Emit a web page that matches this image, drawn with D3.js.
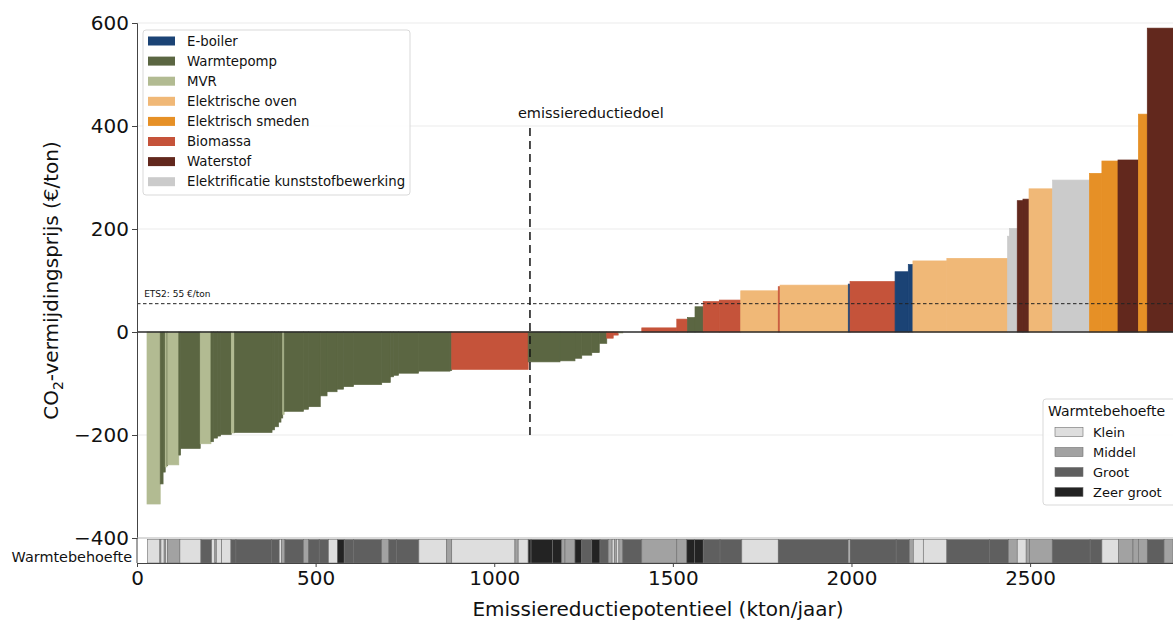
<!DOCTYPE html>
<html>
<head>
<meta charset="utf-8">
<script src="https://cdn.jsdelivr.net/npm/d3@7"></script>
<style>
  body { margin: 0; background: #fff; }
  svg { display: block; font-family: "DejaVu Sans", sans-serif; }
</style>
</head>
<body>
<svg id="chart" width="1173" height="621"></svg>
<script>
// Technologies (legend order) and their colours
const technologies = ["E-boiler", "Warmtepomp", "MVR", "Elektrische oven", "Elektrisch smeden",
                      "Biomassa", "Waterstof", "Elektrificatie kunststofbewerking"];
const techColors = ["#1b4375", "#5b6642", "#b2bb92", "#f0b877", "#e69026", "#c5533a", "#62281d", "#cbcbcb"];

// Measures, sorted by abatement cost
const firstMeasureStart = 28; // kton/jaar
const measureTech = [
  "MVR", "Warmtepomp", "Warmtepomp", "MVR", "Warmtepomp", "MVR", "Warmtepomp", "Warmtepomp", "MVR", "Warmtepomp",
  "Warmtepomp", "Warmtepomp", "Warmtepomp", "MVR", "Warmtepomp", "Warmtepomp", "Warmtepomp", "Warmtepomp", "Warmtepomp", "MVR",
  "Warmtepomp", "Warmtepomp", "Warmtepomp", "Warmtepomp", "Warmtepomp", "Warmtepomp", "Warmtepomp", "Warmtepomp", "Warmtepomp", "Warmtepomp",
  "Warmtepomp", "Warmtepomp", "Warmtepomp", "Warmtepomp", "Biomassa", "Warmtepomp", "Warmtepomp", "Warmtepomp", "Warmtepomp", "Warmtepomp",
  "Warmtepomp", "Biomassa", "Biomassa", "MVR", "Warmtepomp", "Biomassa", "Biomassa", "Warmtepomp", "Warmtepomp", "Biomassa",
  "Biomassa", "Elektrische oven", "Biomassa", "Elektrische oven", "E-boiler", "Biomassa", "E-boiler", "E-boiler", "Elektrische oven", "Elektrische oven",
  "Elektrificatie kunststofbewerking", "Elektrificatie kunststofbewerking", "Waterstof", "Waterstof", "Elektrische oven",
  "Elektrificatie kunststofbewerking", "Elektrisch smeden", "Elektrisch smeden", "Waterstof", "Elektrisch smeden", "Waterstof"
];
// Emission reduction potential per measure (kton/jaar)
const measurePotential = [
  37, 8, 6, 5, 2, 31, 5, 55, 30, 7,
  11, 9, 30, 9, 105, 7, 11, 7, 5, 4,
  54, 14, 33, 19, 28, 18, 28, 79, 24, 9,
  14, 56, 88, 5, 214, 89, 42, 19, 28, 21,
  21, 18, 14, 13, 53, 98, 30, 21, 23, 45,
  60, 105, 5, 191, 5, 126, 37, 13, 95, 170,
  5, 22, 16, 17, 66,
  103, 35, 45, 57, 25, 72
];
// CO2 abatement cost per measure (€/ton)
const measureCost = [
  -334, -295, -272, -262, -259, -258, -239, -226, -217, -213,
  -206, -202, -199, -196, -195, -190, -184, -175, -167, -160,
  -154, -150, -145, -124, -116, -111, -106, -102, -98, -87,
  -84, -80, -76, -75, -72.5, -58, -56, -51, -45, -40,
  -22, -12, -6, -2, 0, 8, 25, 28, 49, 59,
  62, 80, 88, 91, 93, 98, 117, 131, 138, 143,
  186, 201, 255, 258, 278,
  295, 308, 332, 334, 423, 590
];

// Heat demand of the underlying installations along the curve
const heatLevels = ["Klein", "Middel", "Groot", "Zeer groot"];
const heatColors = ["#dedede", "#a2a2a2", "#5f5f5f", "#232323"];
const heatBreaks = [
  29, 64, 67, 76, 80, 86, 120, 179, 209, 218, 222, 237, 263, 277, 377, 398, 405, 414, 466, 480,
  510, 536, 561, 580, 606, 685, 705, 727, 789, 867, 881, 1058, 1067, 1095, 1103, 1163, 1189, 1198, 1226, 1245,
  1273, 1296, 1319, 1330, 1336, 1342, 1349, 1360, 1413, 1511, 1539, 1560, 1585, 1632, 1693, 1795, 1991, 1996, 2125, 2162,
  2173, 2201, 2267, 2386, 2439, 2464, 2489, 2498, 2562, 2668, 2701, 2747, 2788, 2803, 2828, 2875, 2900
];
const heatLevel = [
  "Klein", "Middel", "Klein", "Middel", "Klein", "Middel", "Klein", "Groot", "Klein", "Middel",
  "Klein", "Klein", "Groot", "Groot", "Groot", "Klein", "Middel", "Groot", "Middel", "Groot",
  "Groot", "Klein", "Zeer groot", "Groot", "Groot", "Middel", "Groot", "Groot", "Klein", "Middel",
  "Klein", "Middel", "Klein", "Zeer groot", "Zeer groot", "Zeer groot", "Middel", "Middel", "Zeer groot", "Groot",
  "Zeer groot", "Groot", "Middel", "Klein", "Middel", "Klein", "Middel", "Groot", "Middel", "Middel",
  "Zeer groot", "Zeer groot", "Groot", "Groot", "Klein", "Groot", "Klein", "Groot", "Groot", "Middel",
  "Klein", "Klein", "Groot", "Groot", "Middel", "Klein", "Middel", "Middel", "Groot", "Groot",
  "Klein", "Middel", "Middel", "Middel", "Groot", "Middel"
];

// Reference lines
const ets2Price = 55;          // €/ton
const ets2Label = "ETS2: 55 €/ton";
const targetReduction = 1100;  // kton/jaar
const targetRange = [-200, 400];
const targetLabel = "emissiereductiedoel";

const xTicks = [0, 500, 1000, 1500, 2000, 2500];
const yTicks = [-400, -200, 0, 200, 400, 600];
const xDomain = [0, 2900];
const yDomain = [-400, 600];

// ---- layout ----
const svg = d3.select("#chart");
const plot = { left: 137, right: 1173, top: 23, bottom: 538 };
const strip = { top: 538, bottom: 563 };

const x = d3.scaleLinear().domain(xDomain).range([plot.left, plot.right]);
const y = d3.scaleLinear().domain(yDomain).range([plot.bottom, plot.top]);
const techColor = d3.scaleOrdinal().domain(technologies).range(techColors);
const heatColor = d3.scaleOrdinal().domain(heatLevels).range(heatColors);

// cumulative positions of measures
let acc = firstMeasureStart;
const measures = measurePotential.map((w, i) => {
  const m = { x0: acc, x1: acc + w, cost: measureCost[i], tech: measureTech[i] };
  acc += w;
  return m;
});

// grid
svg.append("g")
  .selectAll("line").data(yTicks.filter(v => v !== -400 && v !== 0)).join("line")
  .attr("x1", plot.left).attr("x2", plot.right)
  .attr("y1", d => y(d)).attr("y2", d => y(d))
  .attr("stroke", "#ebebeb").attr("stroke-width", 1);

// bars
svg.append("g")
  .selectAll("rect").data(measures.filter(m => m.cost !== 0)).join("rect")
  .attr("x", d => x(d.x0))
  .attr("width", d => x(d.x1) - x(d.x0))
  .attr("y", d => y(Math.max(0, d.cost)))
  .attr("height", d => Math.abs(y(d.cost) - y(0)))
  .attr("fill", d => techColor(d.tech))
  .attr("stroke", d => techColor(d.tech))
  .attr("stroke-width", 0.7);

// zero line
svg.append("line")
  .attr("x1", plot.left).attr("x2", plot.right)
  .attr("y1", y(0)).attr("y2", y(0))
  .attr("stroke", "#2b2b2b").attr("stroke-width", 1.3);

// ETS2 price line
svg.append("line")
  .attr("x1", plot.left).attr("x2", plot.right)
  .attr("y1", y(ets2Price)).attr("y2", y(ets2Price))
  .attr("stroke", "#222").attr("stroke-width", 1)
  .attr("stroke-dasharray", "3.5,2.5");
svg.append("text")
  .attr("x", x(20)).attr("y", y(ets2Price) - 7)
  .attr("font-size", 9).attr("fill", "#111")
  .text(ets2Label);

// emission reduction target
svg.append("line")
  .attr("x1", x(targetReduction)).attr("x2", x(targetReduction))
  .attr("y1", y(targetRange[0])).attr("y2", y(targetRange[1]))
  .attr("stroke", "#111").attr("stroke-width", 1.5)
  .attr("stroke-dasharray", "8,5");
svg.append("text")
  .attr("x", x(targetReduction) - 12).attr("y", y(targetRange[1]) - 8)
  .attr("font-size", 14.5).attr("fill", "#111")
  .text(targetLabel);

// y axis
const yAxis = svg.append("g")
  .attr("transform", `translate(${plot.left},0)`)
  .call(d3.axisLeft(y).tickValues(yTicks).tickSize(5).tickPadding(3));
yAxis.select(".domain").attr("stroke", "#444");
yAxis.selectAll(".tick line").attr("stroke", "#444");
yAxis.selectAll(".tick text").attr("font-size", 20).attr("font-family", "DejaVu Sans").attr("fill", "#111");

// heat demand strip
const heatSegs = heatLevel.map((lv, i) => ({ x0: heatBreaks[i], x1: heatBreaks[i + 1], level: lv }));
svg.append("g")
  .selectAll("rect").data(heatSegs).join("rect")
  .attr("x", d => x(d.x0))
  .attr("width", d => x(d.x1) - x(d.x0))
  .attr("y", strip.top + 1.5)
  .attr("height", strip.bottom - strip.top - 1.5)
  .attr("fill", d => heatColor(d.level))
  .attr("stroke", "#6e6e6e").attr("stroke-width", 0.6);
svg.append("line")
  .attr("x1", plot.left).attr("x2", plot.right)
  .attr("y1", strip.top).attr("y2", strip.top)
  .attr("stroke", "#b5b5b5").attr("stroke-width", 1);
svg.append("line")
  .attr("x1", plot.left).attr("x2", plot.left)
  .attr("y1", strip.top).attr("y2", strip.bottom)
  .attr("stroke", "#444").attr("stroke-width", 1);
svg.append("text")
  .attr("x", 132).attr("y", 562)
  .attr("text-anchor", "end").attr("font-size", 14.4).attr("fill", "#111")
  .text("Warmtebehoefte");

// x axis
const xAxis = svg.append("g")
  .attr("transform", `translate(0,${strip.bottom})`)
  .call(d3.axisBottom(x).tickValues(xTicks).tickSize(4).tickPadding(4).tickFormat(d3.format("d")));
xAxis.select(".domain").attr("stroke", "#444");
xAxis.selectAll(".tick line").attr("stroke", "#444");
xAxis.selectAll(".tick text").attr("font-size", 20).attr("font-family", "DejaVu Sans").attr("fill", "#111");

// axis titles
svg.append("text")
  .attr("x", 658).attr("y", 616)
  .attr("text-anchor", "middle").attr("font-size", 20).attr("fill", "#111")
  .text("Emissiereductiepotentieel (kton/jaar)");
const yt = svg.append("text")
  .attr("transform", `translate(58,${(plot.top + plot.bottom) / 2}) rotate(-90)`)
  .attr("text-anchor", "middle").attr("font-size", 20).attr("fill", "#111");
yt.append("tspan").text("CO");
yt.append("tspan").attr("font-size", 14).attr("dy", 5).text("2");
yt.append("tspan").attr("dy", -5).text("-vermijdingsprijs (€/ton)");

// technology legend
const lg = svg.append("g");
lg.append("rect")
  .attr("x", 143).attr("y", 30).attr("width", 267).attr("height", 165).attr("rx", 3)
  .attr("fill", "#fff").attr("fill-opacity", 0.85)
  .attr("stroke", "#d9d9d9").attr("stroke-width", 1);
const lgItems = lg.selectAll("g.item").data(technologies).join("g")
  .attr("transform", (d, i) => `translate(148,${41 + i * 20.1})`);
lgItems.append("rect")
  .attr("x", 0).attr("y", -4.5).attr("width", 27).attr("height", 9)
  .attr("fill", d => techColor(d));
lgItems.append("text")
  .attr("x", 39).attr("y", 0).attr("dy", "0.35em")
  .attr("font-size", 13.3).attr("fill", "#111")
  .text(d => d);

// heat demand legend
const hg = svg.append("g");
hg.append("rect")
  .attr("x", 1043).attr("y", 399).attr("width", 140).attr("height", 106).attr("rx", 3)
  .attr("fill", "#fff").attr("fill-opacity", 0.85)
  .attr("stroke", "#d9d9d9").attr("stroke-width", 1);
hg.append("text")
  .attr("x", 1048).attr("y", 411).attr("dy", "0.35em")
  .attr("font-size", 14).attr("fill", "#111")
  .text("Warmtebehoefte");
const hgItems = hg.selectAll("g.item").data(heatLevels).join("g")
  .attr("transform", (d, i) => `translate(1055,${432 + i * 20})`);
hgItems.append("rect")
  .attr("x", 0).attr("y", -4.5).attr("width", 28).attr("height", 9)
  .attr("fill", d => heatColor(d))
  .attr("stroke", "#6e6e6e").attr("stroke-width", 0.6);
hgItems.append("text")
  .attr("x", 38).attr("y", 0).attr("dy", "0.35em")
  .attr("font-size", 13).attr("fill", "#111")
  .text(d => d);
</script>
</body>
</html>
